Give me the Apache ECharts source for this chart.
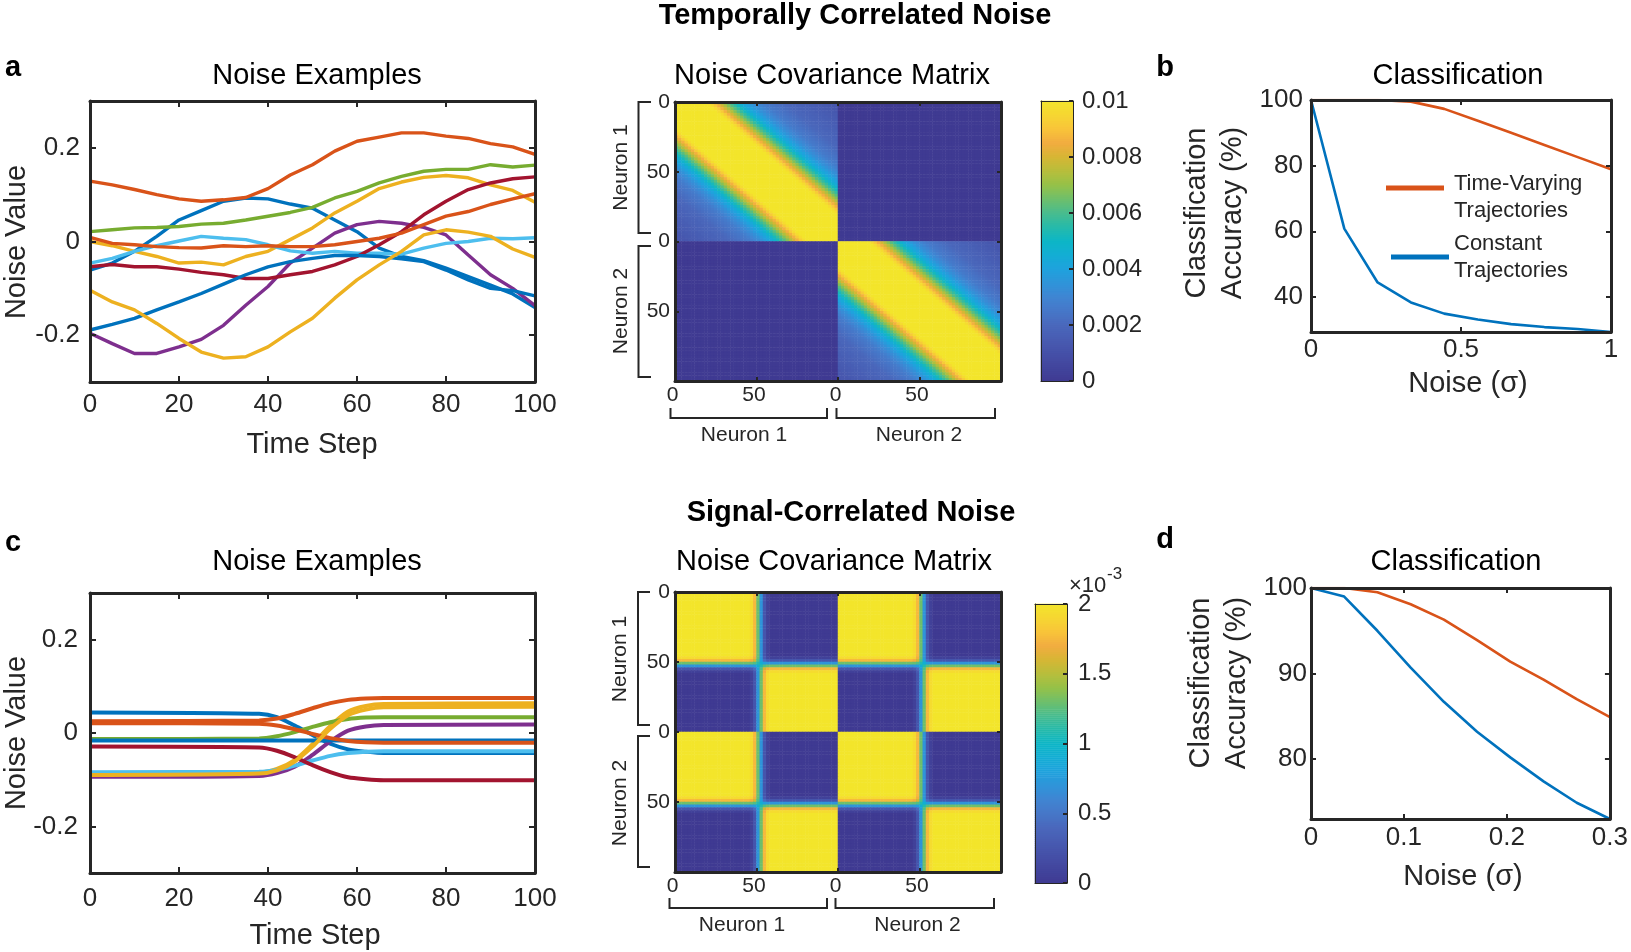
<!DOCTYPE html>
<html>
<head>
<meta charset="utf-8">
<title>Noise covariance figure</title>
<script src="https://cdn.jsdelivr.net/npm/echarts@6.0.0/dist/echarts.min.js"></script>
<style>
    html, body { margin: 0; padding: 0; background: #fff; }
    #main { width: 1631px; height: 952px; }
</style>
</head>
<body>
<div id="main"></div>
<script>
// ---- data ----
// panel a: temporally correlated noise, sampled every 5 time steps
var timeSteps = [0, 5, 10, 15, 20, 25, 30, 35, 40, 45, 50, 55, 60, 65, 70, 75, 80, 85, 90, 95, 100];
var tcLine1 = [-0.061, -0.046, -0.021, 0.011, 0.046, 0.066, 0.086, 0.093, 0.091, 0.08, 0.071, 0.046, 0.021, -0.014, -0.032, -0.041, -0.057, -0.075, -0.093, -0.112, -0.141];
var tcLine2 = [0.129, 0.121, 0.111, 0.1, 0.091, 0.086, 0.089, 0.094, 0.113, 0.142, 0.164, 0.193, 0.214, 0.223, 0.232, 0.232, 0.225, 0.22, 0.209, 0.202, 0.186];
var tcLine3 = [0, -0.009, -0.021, -0.032, -0.046, -0.044, -0.05, -0.032, -0.021, 0.004, 0.029, 0.061, 0.086, 0.113, 0.127, 0.137, 0.141, 0.136, 0.121, 0.109, 0.084];
var tcLine4 = [-0.196, -0.218, -0.239, -0.239, -0.225, -0.209, -0.179, -0.136, -0.096, -0.046, -0.014, 0.018, 0.036, 0.043, 0.039, 0.03, 0.014, -0.029, -0.071, -0.1, -0.137];
var tcLine5 = [0.021, 0.025, 0.029, 0.03, 0.032, 0.037, 0.039, 0.046, 0.054, 0.062, 0.073, 0.093, 0.107, 0.125, 0.139, 0.15, 0.154, 0.154, 0.164, 0.159, 0.163];
var tcLine6 = [-0.046, -0.036, -0.021, -0.009, 0.001, 0.011, 0.007, 0.004, -0.007, -0.02, -0.025, -0.021, -0.025, -0.025, -0.027, -0.014, -0.004, 0, 0.007, 0.006, 0.008];
var tcLine7 = [-0.054, -0.049, -0.054, -0.054, -0.059, -0.066, -0.071, -0.079, -0.079, -0.071, -0.064, -0.05, -0.032, -0.007, 0.021, 0.057, 0.086, 0.111, 0.125, 0.134, 0.138];
var tcLine8 = [-0.189, -0.177, -0.164, -0.146, -0.129, -0.111, -0.091, -0.071, -0.054, -0.043, -0.036, -0.03, -0.03, -0.032, -0.037, -0.043, -0.061, -0.082, -0.1, -0.105, -0.116];
var tcLine9 = [0.009, -0.004, -0.007, -0.011, -0.013, -0.014, -0.009, -0.011, -0.009, -0.011, -0.011, -0.007, 0, 0.007, 0.018, 0.036, 0.054, 0.064, 0.079, 0.091, 0.102];
var tcLine10 = [-0.104, -0.129, -0.146, -0.175, -0.207, -0.236, -0.249, -0.246, -0.225, -0.193, -0.164, -0.121, -0.082, -0.05, -0.021, 0.014, 0.025, 0.02, 0.011, -0.016, -0.034];

// panel c: signal-correlated noise, key points around the switch
var sigSteps = [0, 38, 42, 46, 50, 54, 58, 62, 66, 100];
var scLine1 = [0.044, 0.041, 0.034, 0.016, -0.004, -0.023, -0.035, -0.040, -0.043, -0.043];
var scLine2 = [0.025, 0.027, 0.031, 0.041, 0.053, 0.064, 0.071, 0.074, 0.075, 0.075];
var scLine3 = [-0.088, -0.085, -0.077, -0.058, -0.024, 0.015, 0.046, 0.058, 0.062, 0.064];
var scLine4 = [-0.094, -0.092, -0.086, -0.072, -0.047, -0.018, 0.005, 0.014, 0.017, 0.018];
var scLine5 = [-0.013, -0.012, -0.007, 0.002, 0.013, 0.023, 0.030, 0.033, 0.034, 0.034];
var scLine6 = [-0.084, -0.083, -0.079, -0.070, -0.059, -0.049, -0.043, -0.040, -0.039, -0.039];
var scLine7 = [-0.029, -0.031, -0.038, -0.052, -0.069, -0.084, -0.095, -0.099, -0.101, -0.101];
var scLine8 = [-0.016, -0.016, -0.016, -0.016, -0.016, -0.016, -0.016, -0.016, -0.016, -0.016];
var scLine9 = [0.021, 0.020, 0.016, 0.008, -0.002, -0.011, -0.017, -0.020, -0.021, -0.021];
var scLine10 = [-0.090, -0.087, -0.080, -0.061, -0.029, 0.009, 0.038, 0.050, 0.055, 0.056];

// covariance vs lag (lags 0,2,...,98), saturates at the colour limit
var tcKernel = [0.01, 0.01, 0.01, 0.01, 0.01, 0.01, 0.01, 0.01, 0.01, 0.01,
    0.0097, 0.0092, 0.0086, 0.008, 0.0074, 0.0068, 0.0062, 0.0057, 0.0052, 0.0047,
    0.0043, 0.004, 0.0037, 0.0034, 0.0032, 0.003, 0.0028, 0.0026, 0.0025, 0.0024,
    0.0023, 0.0022, 0.0021, 0.002, 0.0019, 0.0019, 0.0018, 0.0018, 0.0017, 0.0017,
    0.0016, 0.0016, 0.0015, 0.0015, 0.0014, 0.0014, 0.0013, 0.0013, 0.0013, 0.0012];
// share of the second state at time 0,2,...,98
var scProfile = [0, 0, 0, 0, 0, 0, 0, 0, 0, 0, 0, 0, 0, 0, 0, 0, 0, 0, 0, 0, 0, 0, 0,
    0.03, 0.12, 0.35, 0.65, 0.88, 0.97,
    1, 1, 1, 1, 1, 1, 1, 1, 1, 1, 1, 1, 1, 1, 1, 1, 1, 1, 1, 1, 1, 1];
var scMax = 0.002;

// panels b and d: classification accuracy
var noiseB = [0, 0.111, 0.222, 0.333, 0.444, 0.556, 0.667, 0.778, 0.889, 1];
var timeVaryingB = [100, 100, 100, 99.5, 97.3, 93.7, 90.0, 86.3, 82.6, 78.9];
var constantB = [100, 60.8, 44.4, 38.3, 34.9, 33.1, 31.7, 30.8, 30.2, 29.3];
var noiseD = [0.01, 0.0422, 0.0744, 0.1067, 0.1389, 0.1711, 0.2033, 0.2356, 0.2678, 0.3];
var timeVaryingD = [100, 100, 99.5, 98.1, 96.3, 93.9, 91.4, 89.3, 87.0, 84.9];
var constantD = [100, 99.0, 95.0, 90.7, 86.7, 83.2, 80.2, 77.4, 74.9, 73.0];

// ---- styles ----
var lineColors = ['#0072BD', '#D95319', '#EDB120', '#7E2F8E', '#77AC30', '#4DBEEE', '#A2142F', '#0072BD', '#D95319', '#EDB120'];
var parula = ['#3F3A92', '#42459D', '#4550A8', '#485CB2', '#4A68BC', '#4677C8', '#3F85D2', '#2F94D9', '#1FA2DD', '#13ADD4',
    '#0DB6C6', '#26BAAA', '#48BC8E', '#6EBF6B', '#95C148', '#B7BE3C', '#D6B634', '#F2AC40', '#F8C43A', '#F6D632', '#F3E52B'];
var frameColor = '#262626';
var fontFamily = '"Liberation Sans", Arial, sans-serif';

var chart = echarts.init(document.getElementById('main'));

var grids = [], xAxes = [], yAxes = [], series = [], graphics = [];

function addGrid(box) {
    grids.push({left: box[0], top: box[1], width: box[2], height: box[3]});
    return grids.length - 1;
}
function addX(a) { xAxes.push(a); return xAxes.length - 1; }
function addY(a) { yAxes.push(a); return yAxes.length - 1; }

function axis(gi, pos, min, max, ticks, label, st) {
    st = st || {};
    var a = {
        gridIndex: gi, type: 'value', position: pos, min: min, max: max,
        inverse: !!st.inverse,
        axisLine: {show: true, onZero: false, lineStyle: {color: frameColor, width: st.width || 3}},
        axisTick: ticks ? {show: true, inside: true, length: st.tickLen || 6, customValues: ticks,
            lineStyle: {color: frameColor, width: 2}} : {show: false},
        axisLabel: {show: false},
        splitLine: {show: false},
        z: 10
    };
    if (label) {
        a.axisLabel = Object.assign({show: true, customValues: ticks, color: frameColor, fontFamily: fontFamily}, label);
    }
    return a;
}

function lineData(xs, ys) {
    return xs.map(function (x, i) { return [x, ys[i]]; });
}

// ---- panel a / c : noise examples ----
function noisePanel(box, xs, lines, smooth, xMargin, yMargin) {
    var g = addGrid(box);
    var ax = addX(axis(g, 'bottom', 0, 100, [0, 20, 40, 60, 80, 100], {fontSize: 26, margin: xMargin}));
    addX(axis(g, 'top', 0, 100, [0, 20, 40, 60, 80, 100], null));
    var ay = addY(axis(g, 'left', -0.3, 0.3, [-0.2, 0, 0.2], {fontSize: 26, margin: yMargin}));
    addY(axis(g, 'right', -0.3, 0.3, [-0.2, 0, 0.2], null));
    lines.forEach(function (arr, k) {
        series.push({
            type: 'line', xAxisIndex: ax, yAxisIndex: ay, data: lineData(xs, arr),
            showSymbol: false, smooth: smooth, silent: true,
            lineStyle: {width: smooth ? 4 : 3.4, color: lineColors[k]},
            itemStyle: {color: lineColors[k]}
        });
    });
}
noisePanel([90, 101, 445, 281], timeSteps,
    [tcLine1, tcLine2, tcLine3, tcLine4, tcLine5, tcLine6, tcLine7, tcLine8, tcLine9, tcLine10], false, 10, 10);
noisePanel([90, 593, 445, 280], sigSteps,
    [scLine1, scLine2, scLine3, scLine4, scLine5, scLine6, scLine7, scLine8, scLine9, scLine10], 0.3, 13, 12);

// ---- covariance matrices ----
var cellIds = [];
for (var c = 0; c < 100; c++) cellIds.push(String(c));

var tcMatrix = [], scMatrix = [];
for (var i = 0; i < 100; i++) {
    for (var j = 0; j < 100; j++) {
        var ti = i % 50, tj = j % 50;
        var same = Math.floor(i / 50) === Math.floor(j / 50);
        tcMatrix.push([j, i, same ? tcKernel[Math.abs(ti - tj)] : 0]);
        var pi = scProfile[ti], pj = scProfile[tj];
        scMatrix.push([j, i, scMax * (pi * pj + (1 - pi) * (1 - pj))]);
    }
}

function matrixPanel(box, data, xMargin, yMargin) {
    var g = addGrid(box);
    var cx = addX({gridIndex: g, type: 'category', data: cellIds, show: false});
    var cy = addY({gridIndex: g, type: 'category', data: cellIds, show: false, inverse: true});
    var fmt = function (v) { return String(v % 100); };
    var st = {tickLen: 4};
    addX(axis(g, 'bottom', 0, 200, [0, 50, 100, 150],
        {fontSize: 21, margin: xMargin, formatter: fmt, padding: [0, 5, 0, 0]}, st));
    addX(axis(g, 'top', 0, 200, [50, 100, 150], null, st));
    addY(axis(g, 'left', 0, 200, [0, 50, 100, 150], {fontSize: 21, margin: yMargin, formatter: fmt},
        {tickLen: 4, inverse: true}));
    addY(axis(g, 'right', 0, 200, [50, 100, 150], null, {tickLen: 4, inverse: true}));
    series.push({
        type: 'heatmap', xAxisIndex: cx, yAxisIndex: cy, data: data,
        progressive: 0, silent: true, emphasis: {disabled: true}
    });
    return series.length - 1;
}
var tcIndex = matrixPanel([675, 102, 326, 279], tcMatrix, 4, 5);
var scIndex = matrixPanel([675, 592, 326, 280], scMatrix, 4, 5);

// colour bars
function colorBar(box, max, labelMax, ticks, fontSize, margin) {
    var g = addGrid(box);
    var levels = [], ids = [];
    for (var k = 0; k < 140; k++) {
        ids.push(String(k));
        levels.push([0, k, max * (k + 0.5) / 140]);
    }
    var cx = addX({gridIndex: g, type: 'category', data: ['c'], show: false});
    var cy = addY({gridIndex: g, type: 'category', data: ids, show: false});
    var st = {width: 1, tickLen: 4};
    addX(axis(g, 'bottom', 0, 1, null, null, st));
    addX(axis(g, 'top', 0, 1, null, null, st));
    addY(axis(g, 'left', 0, labelMax, null, null, st));
    addY(axis(g, 'right', 0, labelMax, ticks, {fontSize: fontSize, margin: margin}, st));
    series.push({
        type: 'heatmap', xAxisIndex: cx, yAxisIndex: cy, data: levels,
        progressive: 0, silent: true, emphasis: {disabled: true}
    });
    return series.length - 1;
}
var cbTop = colorBar([1041, 101, 32, 280], 0.01, 0.01, [0, 0.002, 0.004, 0.006, 0.008, 0.01], 24, 9);
var cbBot = colorBar([1035, 604, 32, 279], scMax, 2, [0, 0.5, 1, 1.5, 2], 24, 11);

// ---- panels b / d : classification ----
function accuracyPanel(box, xMin, xMax, xTicks, yMin, yTicks, xs, tv, ct, xMargin, yMargin) {
    var g = addGrid(box);
    var fmtX = function (v) { return v < 0.05 ? '0' : String(v); };
    var ax = addX(axis(g, 'bottom', xMin, xMax, xTicks, {fontSize: 26, margin: xMargin, formatter: fmtX}, {tickLen: 5}));
    addX(axis(g, 'top', xMin, xMax, xTicks, null, {tickLen: 5}));
    var ay = addY(axis(g, 'left', yMin, 100, yTicks, {fontSize: 26, margin: yMargin}, {tickLen: 5}));
    addY(axis(g, 'right', yMin, 100, yTicks, null, {tickLen: 5}));
    series.push({
        type: 'line', name: 'Time-Varying Trajectories', xAxisIndex: ax, yAxisIndex: ay,
        data: lineData(xs, tv), showSymbol: false, silent: true,
        lineStyle: {width: 2.6, color: '#D95319'}, itemStyle: {color: '#D95319'}
    });
    series.push({
        type: 'line', name: 'Constant Trajectories', xAxisIndex: ax, yAxisIndex: ay,
        data: lineData(xs, ct), showSymbol: false, silent: true,
        lineStyle: {width: 2.6, color: '#0072BD'}, itemStyle: {color: '#0072BD'}
    });
}
accuracyPanel([1311, 100, 300, 232], 0, 1, [0, 0.5, 1], 29.3, [40, 60, 80, 100],
    noiseB, timeVaryingB, constantB, 5, 8);
accuracyPanel([1311, 588, 300, 231], 0.01, 0.3, [0.01, 0.1, 0.2, 0.3], 73.0, [80, 90, 100],
    noiseD, timeVaryingD, constantD, 6, 4);

// ---- texts and brackets ----
function txt(s, x, y, size, o) {
    o = o || {};
    graphics.push({
        type: 'text', x: x, y: y, rotation: o.rot ? Math.PI / 2 : 0, silent: true, z: 100,
        style: {
            text: s, fill: o.color || '#000',
            font: (o.bold ? 'bold ' : '') + size + 'px ' + fontFamily,
            textAlign: o.align || 'center', textVerticalAlign: 'middle'
        }
    });
}
function bracket(points) {
    graphics.push({
        type: 'polyline', silent: true, z: 100,
        shape: {points: points},
        style: {stroke: frameColor, lineWidth: 2, fill: null}
    });
}

txt('Temporally Correlated Noise', 855, 16, 29, {bold: true});
txt('Signal-Correlated Noise', 851, 513, 29, {bold: true});
txt('a', 13, 68, 29, {bold: true});
txt('b', 1165, 68, 29, {bold: true});
txt('c', 13, 543, 29, {bold: true});
txt('d', 1165, 540, 29, {bold: true});

txt('Noise Examples', 317, 76, 29);
txt('Noise Covariance Matrix', 832, 76, 29);
txt('Classification', 1458, 76, 29);
txt('Noise Examples', 317, 562, 29);
txt('Noise Covariance Matrix', 834, 562, 29);
txt('Classification', 1456, 562, 29);

txt('Time Step', 312, 445, 29, {color: frameColor});
txt('Time Step', 315, 936, 29, {color: frameColor});
txt('Noise Value', 17, 242, 29, {rot: true, color: frameColor});
txt('Noise Value', 17, 733, 29, {rot: true, color: frameColor});
txt('Noise (\u03c3)', 1468, 384, 29, {color: frameColor});
txt('Noise (\u03c3)', 1463, 877, 29, {color: frameColor});
txt('Classification', 1197, 213, 29, {rot: true, color: frameColor});
txt('Accuracy (%)', 1233, 213, 29, {rot: true, color: frameColor});
txt('Classification', 1201, 683, 29, {rot: true, color: frameColor});
txt('Accuracy (%)', 1237, 683, 29, {rot: true, color: frameColor});

txt('\u00d710', 1069, 586, 22, {align: 'left', color: frameColor});
txt('-3', 1107, 574, 17, {align: 'left', color: frameColor});

// neuron brackets, top matrix
bracket([[651, 102], [638.5, 102], [638.5, 233], [651, 233]]);
bracket([[651, 246], [638.5, 246], [638.5, 377], [651, 377]]);
bracket([[670.5, 408], [670.5, 418], [827, 418], [827, 408]]);
bracket([[836.5, 408], [836.5, 418], [995, 418], [995, 408]]);
txt('Neuron 1', 621, 167.5, 21, {rot: true, color: frameColor});
txt('Neuron 2', 621, 311, 21, {rot: true, color: frameColor});
txt('Neuron 1', 744, 435, 21, {color: frameColor});
txt('Neuron 2', 919, 435, 21, {color: frameColor});
// neuron brackets, bottom matrix
bracket([[650, 592], [638, 592], [638, 725], [650, 725]]);
bracket([[650, 736], [638, 736], [638, 867], [650, 867]]);
bracket([[669.5, 898], [669.5, 908], [827, 908], [827, 898]]);
bracket([[835.5, 898], [835.5, 908], [994, 908], [994, 898]]);
txt('Neuron 1', 620, 659, 21, {rot: true, color: frameColor});
txt('Neuron 2', 620, 803, 21, {rot: true, color: frameColor});
txt('Neuron 1', 742, 925, 21, {color: frameColor});
txt('Neuron 2', 917.5, 925, 21, {color: frameColor});

var legendText = {fontSize: 22, lineHeight: 27, color: frameColor, fontFamily: fontFamily,
    padding: [0, 0, 0, 5], rich: {gap: {fontSize: 2, lineHeight: 18}}};

chart.setOption({
    animation: false,
    backgroundColor: '#fff',
    textStyle: {fontFamily: fontFamily},
    grid: grids,
    xAxis: xAxes,
    yAxis: yAxes,
    visualMap: [
        {type: 'continuous', show: false, min: 0, max: 0.01, seriesIndex: [tcIndex, cbTop], inRange: {color: parula}},
        {type: 'continuous', show: false, min: 0, max: scMax, seriesIndex: [scIndex, cbBot], inRange: {color: parula}}
    ],
    legend: [
        {data: ['Time-Varying Trajectories'], left: 1386, top: 152, padding: 0, icon: 'rect',
            itemWidth: 58, itemHeight: 5, selectedMode: false, textStyle: legendText,
            formatter: function () { return '{gap| }\nTime-Varying\nTrajectories'; }},
        {data: ['Constant Trajectories'], left: 1391, top: 230, padding: 0, icon: 'rect',
            itemWidth: 58, itemHeight: 5, selectedMode: false,
            textStyle: Object.assign({}, legendText, {padding: 0}),
            formatter: function (name) { return name.replace(' ', '\n'); }}
    ],
    series: series,
    graphic: graphics
});
</script>
</body>
</html>
